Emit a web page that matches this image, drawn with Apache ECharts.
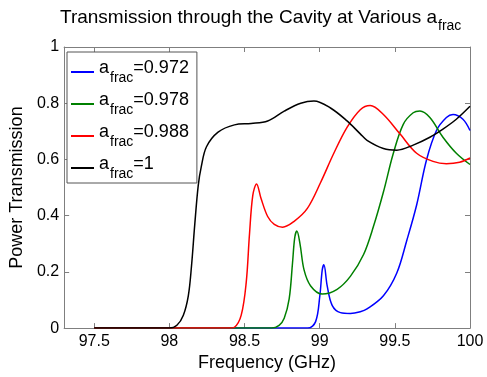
<!DOCTYPE html>
<html>
<head>
<meta charset="utf-8">
<script src="https://cdn.jsdelivr.net/npm/echarts@6/dist/echarts.min.js"></script>
<style>
  html, body { margin: 0; padding: 0; background: #fff; }
  #chart { width: 487px; height: 377px; }
</style>
</head>
<body>
<div id="chart"></div>
<script>
// Tick positions
const xTicks = [97.5, 98, 98.5, 99, 99.5, 100];

// a_frac = 0.972
const freqBlue = [97.5, 98.92, 98.973, 99.001, 99.017, 99.028, 99.05, 99.083, 99.138, 99.204, 99.27, 99.315, 99.424, 99.513, 99.579, 99.645, 99.711, 99.777, 99.843, 99.887, 99.953, 100];
const powBlue = [0, 0, 0.023, 0.115, 0.207, 0.225, 0.15, 0.081, 0.055, 0.052, 0.058, 0.068, 0.115, 0.196, 0.311, 0.438, 0.599, 0.703, 0.749, 0.76, 0.743, 0.703];

// a_frac = 0.978
const freqGreen = [97.5, 98.68, 98.73, 98.764, 98.797, 98.819, 98.834, 98.848, 98.869, 98.896, 98.94, 99.017, 99.116, 99.204, 99.292, 99.358, 99.424, 99.49, 99.556, 99.622, 99.667, 99.733, 99.82, 99.909, 100];
const powGreen = [0, 0, 0.01, 0.035, 0.104, 0.23, 0.322, 0.345, 0.30, 0.207, 0.15, 0.121, 0.138, 0.184, 0.262, 0.362, 0.484, 0.622, 0.725, 0.766, 0.772, 0.749, 0.679, 0.622, 0.582];

// a_frac = 0.988
const freqRed = [97.5, 98.4, 98.433, 98.478, 98.511, 98.533, 98.555, 98.58, 98.61, 98.654, 98.698, 98.753, 98.83, 98.918, 99.006, 99.094, 99.182, 99.27, 99.336, 99.424, 99.534, 99.645, 99.754, 99.843, 99.931, 100];
const powRed = [0, 0, 0.003, 0.046, 0.161, 0.334, 0.472, 0.513, 0.461, 0.397, 0.369, 0.359, 0.38, 0.426, 0.518, 0.622, 0.714, 0.777, 0.792, 0.76, 0.691, 0.622, 0.593, 0.585, 0.59, 0.605];

// a_frac = 1
const freqBlack = [97.5, 98.0, 98.05, 98.093, 98.126, 98.147, 98.169, 98.192, 98.213, 98.247, 98.324, 98.433, 98.544, 98.654, 98.764, 98.874, 98.962, 99.072, 99.182, 99.27, 99.315, 99.424, 99.513, 99.622, 99.733, 99.82, 99.909, 100];
const powBlack = [0, 0, 0.01, 0.046, 0.115, 0.219, 0.369, 0.507, 0.576, 0.645, 0.697, 0.723, 0.728, 0.737, 0.772, 0.80, 0.808, 0.783, 0.737, 0.691, 0.668, 0.639, 0.633, 0.651, 0.679, 0.708, 0.743, 0.789];

const seriesNames = ["0.972", "0.978", "0.988", "1"];
const seriesColors = ["#0000ff", "#008000", "#ff0000", "#000000"];
const seriesFreq = [freqBlue, freqGreen, freqRed, freqBlack];
const seriesPow = [powBlue, powGreen, powRed, powBlack];

const FONT = "Liberation Sans";
const AXIS_COLOR = "#7f7f7f";

const chart = echarts.init(document.getElementById("chart"));

function boxAxis(extra) {
  return Object.assign({
    type: "value",
    axisLine: { show: true, onZero: false, lineStyle: { color: AXIS_COLOR, width: 1 } },
    axisTick: { show: true, inside: true, length: 5, lineStyle: { color: AXIS_COLOR } },
    splitLine: { show: false },
  }, extra);
}

const option = {
  animation: false,
  backgroundColor: "#fff",
  title: {
    text: "{m|Transmission through the Cavity at Various a}{s|frac}",
    left: 60,
    top: 6,
    padding: 0,
    textStyle: {
      fontWeight: "normal",
      rich: {
        m: { fontFamily: FONT, fontSize: 19, fontWeight: "normal", color: "#000", lineHeight: 26, verticalAlign: "top", padding: [2, 0, 0, 0] },
        s: { fontFamily: FONT, fontSize: 14, fontWeight: "normal", color: "#000", lineHeight: 14, padding: [13, 0, 0, 1], verticalAlign: "top" },
      },
    },
  },
  legend: {
    orient: "vertical",
    left: 67,
    top: 52,
    padding: [7, 8, 2, 4],
    itemGap: 6,
    itemWidth: 23,
    itemHeight: 2,
    icon: "rect",
    borderColor: "#555",
    borderWidth: 1,
    backgroundColor: "#fff",
    data: seriesNames.map((n) => "a=" + n),
    formatter: (name) => "{m|a}{s|frac}{m|=" + name.slice(2) + "}",
    textStyle: {
      rich: {
        m: { fontFamily: FONT, fontSize: 18, color: "#000", lineHeight: 26, verticalAlign: "top", padding: [0, 0, 0, 0] },
        s: { fontFamily: FONT, fontSize: 14, color: "#000", lineHeight: 14, padding: [12, 0, 0, 1], verticalAlign: "top" },
      },
    },
  },
  grid: { left: 62, right: 17, top: 47, bottom: 40 },
  xAxis: [
    boxAxis({
      min: 97.3,
      max: 100,
      position: "bottom",
      name: "Frequency (GHz)",
      nameLocation: "middle",
      nameGap: 23,
      nameTextStyle: { fontFamily: FONT, fontSize: 18, color: "#000" },
      axisTick: { show: true, inside: true, length: 5, lineStyle: { color: AXIS_COLOR }, customValues: xTicks },
      axisLabel: { show: true, customValues: xTicks, margin: 5, fontFamily: FONT, fontSize: 16, color: "#000" },
    }),
    boxAxis({
      min: 97.3,
      max: 100,
      position: "top",
      axisTick: { show: true, inside: true, length: 5, lineStyle: { color: AXIS_COLOR }, customValues: xTicks },
      axisLabel: { show: false },
    }),
  ],
  yAxis: [
    boxAxis({
      min: 0,
      max: 1,
      interval: 0.2,
      position: "left",
      name: "Power Transmission",
      nameLocation: "middle",
      nameGap: 30,
      nameTextStyle: { fontFamily: FONT, fontSize: 18, color: "#000" },
      axisLabel: { show: true, margin: 5, fontFamily: FONT, fontSize: 16, color: "#000" },
    }),
    boxAxis({
      min: 0,
      max: 1,
      interval: 0.2,
      position: "right",
      axisLabel: { show: false },
    }),
  ],
  series: seriesNames.map((n, i) => ({
    name: "a=" + n,
    type: "line",
    xAxisIndex: 0,
    yAxisIndex: 0,
    data: seriesFreq[i].map((f, j) => [f, seriesPow[i][j]]),
    smooth: 0.35,
    symbol: "none",
    clip: true,
    lineStyle: { color: seriesColors[i], width: 1.5 },
    itemStyle: { color: seriesColors[i] },
  })),
};

chart.setOption(option);
</script>
</body>
</html>
